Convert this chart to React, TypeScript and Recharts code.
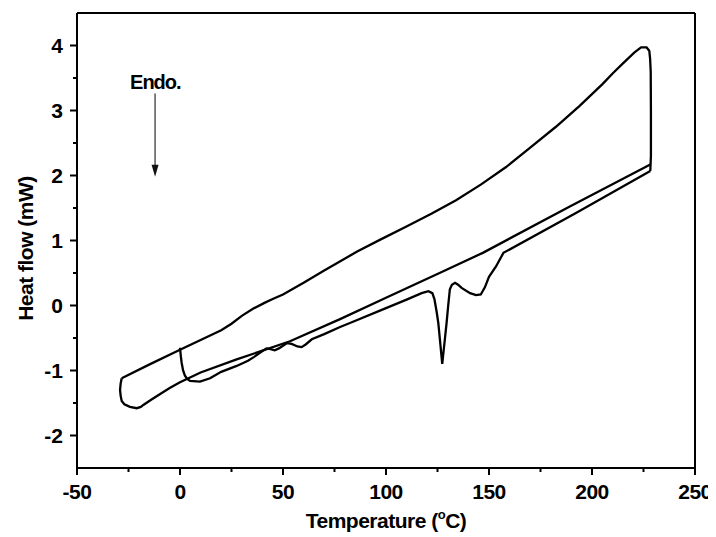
import { LineChart, Line, XAxis, YAxis, ReferenceLine } from 'recharts'

// DSC trace: temperature (°C) and heat flow (mW)
const firstHeatTemp = [0, 0.4, 0.8, 1.5, 2.4, 3.5, 4.9, 9.7, 14.6, 20, 27.5, 33, 36, 40, 42, 44, 46, 48, 51.8, 54.2, 57, 59, 61, 64, 70, 77.7, 82.5, 100, 110, 117.3, 120.6, 122.5, 123.5, 124.6, 125.4, 126.4, 127.3, 128.3, 129.4, 130.2, 131, 132, 133.5, 135, 136.7, 140.8, 143.7, 146, 148, 150, 153.4, 157, 192, 228.3]
const firstHeatFlow = [-0.65, -0.78, -0.88, -1.0, -1.08, -1.13, -1.16, -1.17, -1.12, -1.02, -0.93, -0.85, -0.79, -0.7, -0.66, -0.67, -0.69, -0.66, -0.58, -0.59, -0.63, -0.64, -0.6, -0.52, -0.44, -0.33, -0.27, -0.04, 0.09, 0.19, 0.22, 0.19, 0.1, -0.1, -0.27, -0.6, -0.9, -0.6, -0.27, 0, 0.25, 0.32, 0.35, 0.32, 0.27, 0.19, 0.16, 0.17, 0.28, 0.44, 0.6, 0.81, 1.42, 2.07]

const coolingTemp = [228.3, 228.6, 228.6, 228.5, 228.2, 227.8, 226.5, 223.8, 220.5, 214.9, 210, 205.2, 194, 182.5, 170, 158.3, 146, 134, 122, 109.7, 97, 86, 70, 60, 50, 45, 41, 36, 30, 25, 20, 0, -15, -28.3]
const coolingFlow = [2.07, 2.3, 3.0, 3.6, 3.8, 3.92, 3.97, 3.97, 3.89, 3.72, 3.57, 3.41, 3.07, 2.75, 2.43, 2.13, 1.86, 1.62, 1.41, 1.21, 1.01, 0.83, 0.54, 0.35, 0.17, 0.1, 0.04, -0.04, -0.16, -0.28, -0.38, -0.68, -0.91, -1.12]

const secondHeatTemp = [-28.3, -28.8, -29.1, -28.8, -28.3, -27, -24.3, -21, -19, -17.8, -14, -10, -5, 0, 10, 27.5, 53.4, 77.7, 100, 126, 147, 189, 228.3]
const secondHeatFlow = [-1.12, -1.2, -1.3, -1.39, -1.47, -1.52, -1.56, -1.58, -1.56, -1.53, -1.45, -1.37, -1.27, -1.18, -1.03, -0.83, -0.55, -0.21, 0.12, 0.5, 0.81, 1.52, 2.17]

const xTicks = [-50, -25, 0, 25, 50, 75, 100, 125, 150, 175, 200, 225, 250]
const yTicks = [-2, -1.5, -1, -0.5, 0, 0.5, 1, 1.5, 2, 2.5, 3, 3.5, 4]

const zip = (t: number[], h: number[]) => t.map((v, i) => ({ t: v, h: h[i] }))
const firstHeat = zip(firstHeatTemp, firstHeatFlow)
const cooling = zip(coolingTemp, coolingFlow)
const secondHeat = zip(secondHeatTemp, secondHeatFlow)

const FONT = '"Liberation Sans", Arial, sans-serif'

const BottomTick = (p: any) => {
  const major = p.payload.value % 50 === 0
  return (
    <g>
      <line x1={p.x} y1={p.y} x2={p.x} y2={p.y + (major ? 7 : 4)} stroke='#000' strokeWidth={2} />
      {major && (
        <text x={p.x} y={p.y + 31} textAnchor='middle' fontFamily={FONT} fontWeight='bold' fontSize={21} fill='#000' letterSpacing={-0.5}>
          {p.payload.value}
        </text>
      )}
    </g>
  )
}

const TopTick = (p: any) => {
  const major = p.payload.value % 50 === 0
  return <line x1={p.x} y1={p.y} x2={p.x} y2={p.y - (major ? 4 : 3)} stroke='#000' strokeWidth={2} />
}

const LeftTick = (p: any) => {
  const major = Number.isInteger(p.payload.value)
  return (
    <g>
      <line x1={p.x} y1={p.y} x2={p.x - (major ? 7 : 4)} y2={p.y} stroke='#000' strokeWidth={2} />
      {major && (
        <text x={p.x - 14} y={p.y + 7.5} textAnchor='end' fontFamily={FONT} fontWeight='bold' fontSize={21} fill='#000'>
          {p.payload.value}
        </text>
      )}
    </g>
  )
}

const RightTick = (p: any) => {
  const major = Number.isInteger(p.payload.value)
  return <line x1={p.x} y1={p.y} x2={p.x + (major ? 4 : 3)} y2={p.y} stroke='#000' strokeWidth={2} />
}

const xLabel = (props: any) => {
  const vb = props.viewBox
  return (
    <text x={vb.x + vb.width / 2} y={vb.y + 60} textAnchor='middle' fontFamily={FONT} fontWeight='bold' fontSize={21} fill='#000' letterSpacing={-0.5}>
      Temperature (<tspan fontSize={13} dy={-9}>o</tspan><tspan dy={9}>C)</tspan>
    </text>
  )
}

const yLabel = (props: any) => {
  const vb = props.viewBox
  const x = vb.x + 25
  const y = vb.y + vb.height / 2 + 8
  return (
    <text x={x} y={y} transform={`rotate(-90, ${x}, ${y})`} textAnchor='middle' fontFamily={FONT} fontWeight='bold' fontSize={21} fill='#000' letterSpacing={-0.5}>
      Heat flow (mW)
    </text>
  )
}

const endoArrow = (p: any) => (
  <g>
    <text x={p.x1 - 25} y={p.y1 - 5} fontFamily={FONT} fontWeight='bold' fontSize={20} fill='#000' letterSpacing={-1}>
      Endo.
    </text>
    <line x1={p.x1} y1={p.y1} x2={p.x2} y2={p.y2 - 10} stroke='#555' strokeWidth={1.5} />
    <polygon points={`${p.x2 - 3.5},${p.y2 - 12} ${p.x2 + 3.5},${p.y2 - 12} ${p.x2},${p.y2}`} fill='#111' />
  </g>
)

export default function App() {
  const line = { dataKey: 'h', type: 'linear' as const, stroke: '#000', strokeWidth: 2.3, dot: false, activeDot: false, isAnimationActive: false }
  return (
    <LineChart width={708} height={529} margin={{ top: 0, right: 0, bottom: 0, left: 0 }}>
      <XAxis
        dataKey='t'
        type='number'
        domain={[-50, 250]}
        ticks={xTicks}
        interval={0}
        height={69}
        tickSize={0}
        tickMargin={0}
        tickLine={false}
        axisLine={{ stroke: '#000', strokeWidth: 2 }}
        tick={BottomTick}
        label={xLabel}
      />
      <XAxis
        xAxisId='top'
        orientation='top'
        dataKey='t'
        type='number'
        domain={[-50, 250]}
        ticks={xTicks}
        interval={0}
        height={5}
        tickSize={0}
        tickMargin={0}
        tickLine={false}
        axisLine={{ stroke: '#000', strokeWidth: 2 }}
        tick={TopTick}
      />
      <YAxis
        type='number'
        domain={[-2.5, 4.5]}
        ticks={yTicks}
        interval={0}
        width={69}
        tickSize={0}
        tickMargin={0}
        tickLine={false}
        axisLine={{ stroke: '#000', strokeWidth: 2 }}
        tick={LeftTick}
        label={yLabel}
      />
      <YAxis
        yAxisId='right'
        orientation='right'
        type='number'
        domain={[-2.5, 4.5]}
        ticks={yTicks}
        interval={0}
        width={21}
        tickSize={0}
        tickMargin={0}
        tickLine={false}
        axisLine={{ stroke: '#000', strokeWidth: 2 }}
        tick={RightTick}
      />
      <Line data={firstHeat} {...line} />
      <Line data={cooling} {...line} />
      <Line data={secondHeat} {...line} />
      <ReferenceLine
        segment={[{ x: -12.1, y: 3.26 }, { x: -12.1, y: 1.98 }]}
        shape={endoArrow}
      />
    </LineChart>
  )
}
